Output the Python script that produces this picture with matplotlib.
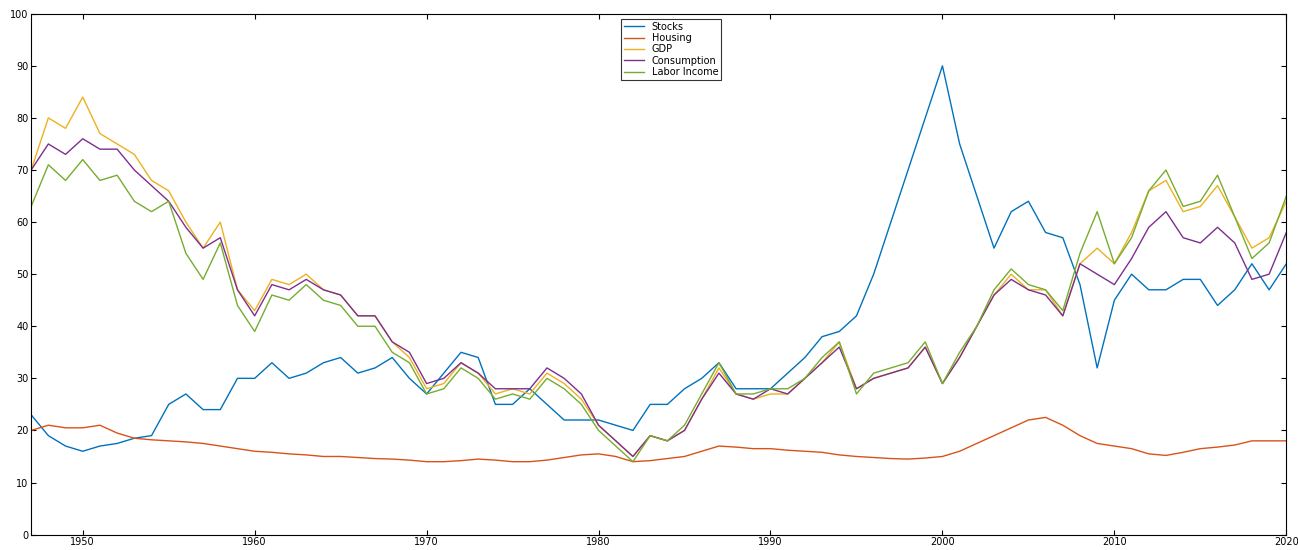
import numpy as np
import matplotlib.pyplot as plt

years = np.arange(1947, 2021)

stocks = [23, 19, 17, 16, 17, 17.5, 18.5, 19, 25, 27, 24, 24, 30, 30, 33, 30, 31, 33, 34, 31,
          32, 34, 30, 27, 31, 35, 34, 25, 25, 28, 25, 22, 22, 22, 21, 20, 25, 25, 28, 30,
          33, 28, 28, 28, 31, 34, 38, 39, 42, 50, 60, 70, 80, 90, 75, 65, 55, 62, 64, 58,
          57, 48, 32, 45, 50, 47, 47, 49, 49, 44, 47, 52, 47, 52]
housing = [20, 21, 20.5, 20.5, 21, 19.5, 18.5, 18.2, 18, 17.8, 17.5, 17, 16.5, 16, 15.8, 15.5, 15.3, 15, 15, 14.8,
           14.6, 14.5, 14.3, 14, 14, 14.2, 14.5, 14.3, 14, 14, 14.3, 14.8, 15.3, 15.5, 15, 14, 14.2, 14.6, 15, 16,
           17, 16.8, 16.5, 16.5, 16.2, 16, 15.8, 15.3, 15, 14.8, 14.6, 14.5, 14.7, 15, 16, 17.5, 19, 20.5, 22, 22.5,
           21, 19, 17.5, 17, 16.5, 15.5, 15.2, 15.8, 16.5, 16.8, 17.2, 18, 18, 18]
gdp = [70, 80, 78, 84, 77, 75, 73, 68, 66, 60, 55, 60, 47, 43, 49, 48, 50, 47, 46, 42,
       42, 37, 34, 28, 29, 33, 31, 27, 28, 27, 31, 29, 26, 21, 18, 15, 19, 18, 20, 26,
       32, 27, 26, 27, 27, 30, 33, 37, 28, 30, 31, 32, 36, 29, 34, 40, 46, 50, 47, 47,
       42, 52, 55, 52, 58, 66, 68, 62, 63, 67, 61, 55, 57, 64]
consumption = [70, 75, 73, 76, 74, 74, 70, 67, 64, 59, 55, 57, 47, 42, 48, 47, 49, 47, 46, 42,
               42, 37, 35, 29, 30, 33, 31, 28, 28, 28, 32, 30, 27, 21, 18, 15, 19, 18, 20, 26,
               31, 27, 26, 28, 27, 30, 33, 36, 28, 30, 31, 32, 36, 29, 34, 40, 46, 49, 47, 46,
               42, 52, 50, 48, 53, 59, 62, 57, 56, 59, 56, 49, 50, 58]
labor = [63, 71, 68, 72, 68, 69, 64, 62, 64, 54, 49, 56, 44, 39, 46, 45, 48, 45, 44, 40,
         40, 35, 33, 27, 28, 32, 30, 26, 27, 26, 30, 28, 25, 20, 17, 14, 19, 18, 21, 27,
         33, 27, 27, 28, 28, 30, 34, 37, 27, 31, 32, 33, 37, 29, 35, 40, 47, 51, 48, 47,
         43, 54, 62, 52, 57, 66, 70, 63, 64, 69, 61, 53, 56, 65]

series = [("Stocks", stocks, "#0072BD"), ("Housing", housing, "#D95319"),
          ("GDP", gdp, "#EDB120"), ("Consumption", consumption, "#7E2F8E"),
          ("Labor Income", labor, "#77AC30")]

fig, ax = plt.subplots(figsize=(12.98, 5.5), dpi=100)
fig.subplots_adjust(left=0.024, right=0.991, top=0.975, bottom=0.028)
for name, vals, c in series:
    ax.plot(years, vals, color=c, lw=1, label=name)
ax.set_xlim(1947, 2020)
ax.set_ylim(0, 100)
ax.set_yticks(range(0, 101, 10))
ax.set_xticks(range(1950, 2021, 10))
ax.tick_params(direction='in', top=True, right=True, labelsize=7, pad=2)
leg = ax.legend(loc='upper center', bbox_to_anchor=(0.51, 1.0), fontsize=7,
                fancybox=False, edgecolor='black', handlelength=2, borderpad=0.3,
                labelspacing=0.15)
leg.get_frame().set_linewidth(0.8)
plt.savefig("out.png")
